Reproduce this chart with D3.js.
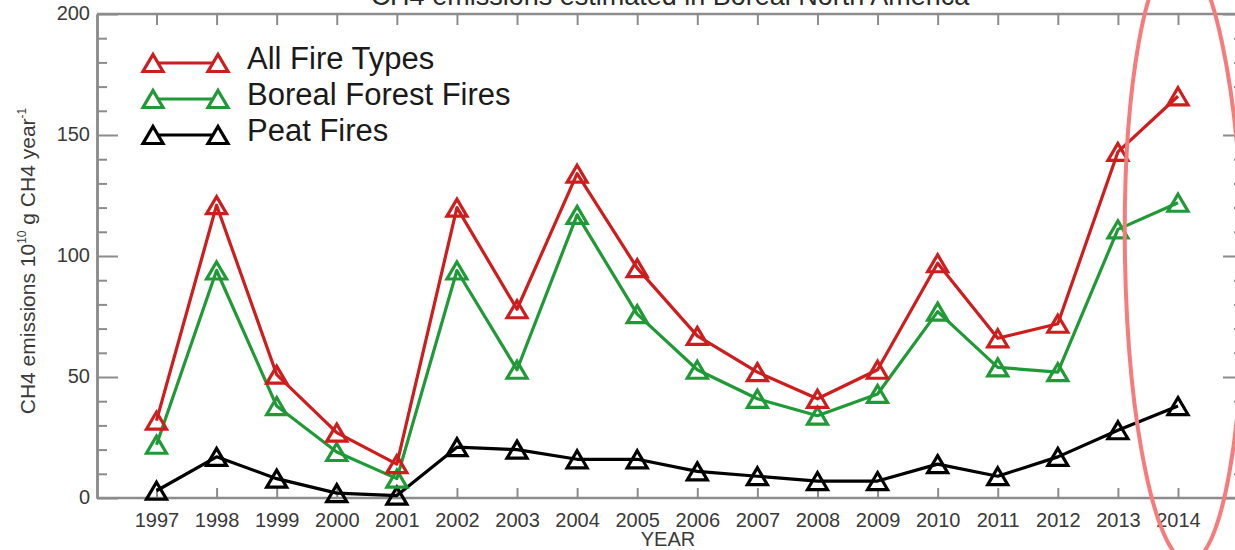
<!DOCTYPE html>
<html>
<head>
<meta charset="utf-8">
<script src="https://cdn.jsdelivr.net/npm/d3@7"></script>
<style>
  html, body { margin: 0; padding: 0; background: #fff; }
  svg { display: block; }
  text { font-family: "Liberation Sans", Arial, Helvetica, sans-serif; }
</style>
</head>
<body>
<svg id="chart" width="1235" height="550"></svg>
<script>
// CH4 emissions (10^10 g CH4 / year) from fires in boreal North America
const years = [1997, 1998, 1999, 2000, 2001, 2002, 2003, 2004, 2005, 2006, 2007, 2008, 2009, 2010, 2011, 2012, 2013, 2014];
const allFireTypes = [32, 121, 51, 27, 14, 120, 78, 134, 95, 67, 52, 41, 53, 97, 66, 72, 143, 166];
const borealForestFires = [22, 94, 38, 19, 8, 94, 53, 117, 76, 53, 41, 34, 43, 77, 54, 52, 111, 122];
const peatFires = [3, 17, 8, 2, 1, 21, 20, 16, 16, 11, 9, 7, 7, 14, 9, 17, 28, 38];

const seriesNames = ["All Fire Types", "Boreal Forest Fires", "Peat Fires"];
const seriesColors = ["#cf1c1c", "#1f9a36", "#000000"];
const yMajorTicks = [0, 50, 100, 150, 200];
const yMinorTicks = [10, 20, 30, 40, 60, 70, 80, 90, 110, 120, 130, 140, 160, 170, 180, 190];

const titleText = "CH4 emissions estimated in Boreal North America";
const xTitle = "YEAR";

const svg = d3.select("#chart");

const frameL = 97, frameR = 1244, frameT = 14, frameB = 498;
const x = d3.scaleLinear().domain([1997, 2014]).range([156.5, 1178]);
const y = d3.scaleLinear().domain([0, 200]).range([frameB, frameT]);

const axisColor = "#8c8c8c";
const labelColor = "#3a3a3a";

// title (sits above the frame)
svg.append("text")
  .attr("x", 670).attr("y", 5)
  .attr("text-anchor", "middle")
  .attr("font-size", 27)
  .attr("fill", "#2a2a2a")
  .text(titleText);

function styleAxis(g) {
  g.selectAll(".domain").attr("stroke", axisColor).attr("stroke-width", 2.5);
  g.selectAll(".tick line").attr("stroke", axisColor).attr("stroke-width", 2);
  g.selectAll(".tick text").attr("fill", labelColor).attr("font-size", 20)
    .attr("font-family", "'Liberation Sans', Arial, sans-serif");
}

// left axis
const gl = svg.append("g").attr("transform", `translate(${frameL},0)`)
  .call(d3.axisLeft(y).tickValues(yMajorTicks).tickSize(-21).tickPadding(7).tickSizeOuter(0));
styleAxis(gl);
gl.selectAll(".tick text").attr("dy", "0.25em");
const glm = svg.append("g").attr("transform", `translate(${frameL},0)`)
  .call(d3.axisLeft(y).tickValues(yMinorTicks).tickSize(-10).tickFormat("").tickSizeOuter(0));
styleAxis(glm);

// right axis
const gr = svg.append("g").attr("transform", `translate(${frameR},0)`)
  .call(d3.axisRight(y).tickValues(yMajorTicks).tickSize(-21).tickFormat("").tickSizeOuter(0));
styleAxis(gr);
const grm = svg.append("g").attr("transform", `translate(${frameR},0)`)
  .call(d3.axisRight(y).tickValues(yMinorTicks).tickSize(-10).tickFormat("").tickSizeOuter(0));
styleAxis(grm);

// bottom axis
const gb = svg.append("g").attr("transform", `translate(0,${frameB})`)
  .call(d3.axisBottom(x).tickValues(years).tickFormat(d3.format("d"))
    .tickSize(-10).tickPadding(15).tickSizeOuter(0));
styleAxis(gb);
gb.select(".domain").attr("d", `M${frameL},0H${frameR}`);

// top axis
const gt = svg.append("g").attr("transform", `translate(0,${frameT})`)
  .call(d3.axisTop(x).tickValues(years).tickFormat("").tickSize(-11).tickSizeOuter(0));
styleAxis(gt);
gt.select(".domain").attr("d", `M${frameL},0H${frameR}`);

// axis titles
svg.append("text")
  .attr("x", 668).attr("y", 546)
  .attr("text-anchor", "middle")
  .attr("font-size", 20)
  .attr("fill", labelColor)
  .text(xTitle);

const yt = svg.append("text")
  .attr("transform", "translate(35,261) rotate(-90)")
  .attr("text-anchor", "middle")
  .attr("font-size", 21)
  .attr("fill", labelColor);
yt.append("tspan").text("CH4 emissions 10");
yt.append("tspan").attr("font-size", 12).attr("dy", -9).text("10");
yt.append("tspan").attr("dy", 9).text(" g CH4 year");
yt.append("tspan").attr("font-size", 12).attr("dy", -9).text("-1");

// open triangle marker path centred on a point
const triW = 20, triH = 17;
function tri(cx, cy) {
  return `M${cx},${cy - triH / 2}L${cx + triW / 2},${cy + triH / 2}L${cx - triW / 2},${cy + triH / 2}Z`;
}

const seriesValues = [allFireTypes, borealForestFires, peatFires];
const line = d3.line().x(d => x(d[0])).y(d => y(d[1]));

// draw peat first, then boreal, then all fire types on top
[2, 1, 0].forEach(i => {
  const pts = years.map((yr, j) => [yr, seriesValues[i][j]]);
  const g = svg.append("g");
  g.append("path")
    .attr("d", line(pts))
    .attr("fill", "none")
    .attr("stroke", seriesColors[i])
    .attr("stroke-width", 3.2)
    .attr("stroke-linejoin", "round");
  g.selectAll("path.mk").data(pts).join("path")
    .attr("class", "mk")
    .attr("d", d => tri(x(d[0]), y(d[1])))
    .attr("fill", "none")
    .attr("stroke", seriesColors[i])
    .attr("stroke-width", 3.2)
    .attr("stroke-linejoin", "miter");
});

// legend
const legendRows = [63, 99, 135];
seriesNames.forEach((name, i) => {
  const ly = legendRows[i];
  const g = svg.append("g");
  g.append("line")
    .attr("x1", 153).attr("x2", 218).attr("y1", ly).attr("y2", ly)
    .attr("stroke", seriesColors[i]).attr("stroke-width", 3);
  [153, 218].forEach(cx => {
    g.append("path").attr("d", tri(cx, ly))
      .attr("fill", "#fff").attr("stroke", seriesColors[i]).attr("stroke-width", 3.2);
  });
  g.append("text")
    .attr("x", 247).attr("y", ly + 6)
    .attr("font-size", 31)
    .attr("fill", "#1a1a1a")
    .text(name);
});

// highlight around the 2014 values
svg.append("ellipse")
  .attr("cx", 1184).attr("cy", 258)
  .attr("rx", 59).attr("ry", 304)
  .attr("transform", "rotate(-1 1184 258)")
  .attr("fill", "none")
  .attr("stroke", "#f77b7b")
  .attr("stroke-width", 4);
</script>
</body>
</html>
